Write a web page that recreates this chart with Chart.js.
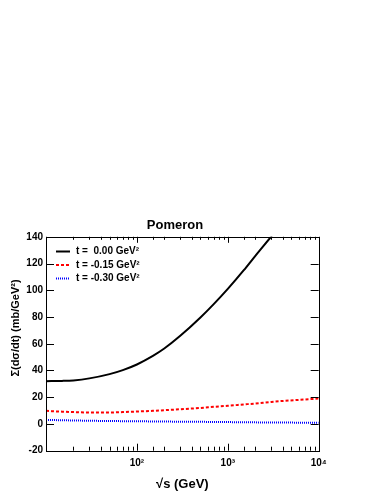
<!DOCTYPE html>
<html>
<head>
<meta charset="utf-8">
<script src="https://cdn.jsdelivr.net/npm/chart.js"></script>
<style>
  body { margin: 0; background: #fff; }
  canvas { display: block; }
</style>
</head>
<body>
<canvas id="myChart" width="382" height="494"></canvas>
<script>
// sqrt(s) in GeV
const energies = [10, 15, 20, 30, 50, 70, 100, 150, 200, 300, 500, 700, 1000, 1500, 2000, 3000, 4000, 7000, 10000];

// sum of dsigma/dt (mb/GeV^2) for three t values
const t000 = [32.0, 32.2, 32.6, 34.1, 37.3, 40.3, 44.5, 50.9, 56.4, 65.9, 79.6, 89.6, 101.0, 115.0, 125.6, 140.2, 150.9, null, null];
const t015 = [9.8, 9.2, 8.9, 8.6, 8.6, 8.9, 9.3, 9.8, 10.3, 11.0, 12.0, 12.8, 13.6, 14.6, 15.3, 16.5, 17.2, 18.3, 19.0];
const t030 = [3.0, 2.8, 2.6, 2.4, 2.2, 2.1, 2.0, 1.9, 1.8, 1.7, 1.6, 1.5, 1.4, 1.3, 1.2, 1.1, 1.05, 0.95, 0.9];

const seriesLabels = ['t =  0.00 GeV\u00b2', 't = -0.15 GeV\u00b2', 't = -0.30 GeV\u00b2'];
const decadeLabels = { 100: '10\u00b2', 1000: '10\u00b3', 10000: '10\u2074' };

const chartTitle = 'Pomeron';
const xTitle = '\u221as (GeV)';
const yTitle = '\u03a3(d\u03c3/dt) (mb/GeV\u00b2)';

const FONT = "'Liberation Sans', Arial, sans-serif";

function pts(vals) {
    return energies.map((e, i) => ({ x: e, y: vals[i] }));
}

const isDecade = v => Math.abs(Math.log10(v) - Math.round(Math.log10(v))) < 1e-6;

// frame, inward ticks on all four sides, legend, title, y title
const decor = {
    id: 'decor',
    afterDraw(chart) {
        const { ctx, chartArea: a, scales: { x, y } } = chart;
        ctx.save();
        ctx.strokeStyle = '#000';
        ctx.lineWidth = 1;
        ctx.strokeRect(Math.round(a.left) + 0.5, Math.round(a.top) + 0.5,
            Math.round(a.width), Math.round(a.height));

        ctx.beginPath();
        x.ticks.forEach(t => {
            const px = Math.round(x.getPixelForValue(t.value)) + 0.5;
            const big = isDecade(t.value);
            ctx.moveTo(px, a.bottom); ctx.lineTo(px, a.bottom - (big ? 7 : 4));
            ctx.moveTo(px, a.top); ctx.lineTo(px, a.top + (big ? 6 : 3));
        });
        y.ticks.forEach(t => {
            const py = Math.round(y.getPixelForValue(t.value)) + 0.5;
            ctx.moveTo(a.left, py); ctx.lineTo(a.left + 8, py);
            ctx.moveTo(a.right, py); ctx.lineTo(a.right - 8, py);
        });
        ctx.stroke();

        // legend
        ctx.font = 'bold 10px ' + FONT;
        ctx.textBaseline = 'middle';
        ctx.textAlign = 'left';
        const rows = [251.5, 265, 278.5];
        chart.data.datasets.forEach((ds, i) => {
            ctx.beginPath();
            ctx.strokeStyle = ds.borderColor;
            ctx.lineWidth = ds.borderWidth;
            ctx.setLineDash(ds.borderDash || []);
            ctx.moveTo(a.left + 10, rows[i]);
            ctx.lineTo(a.left + 24, rows[i]);
            ctx.stroke();
            ctx.setLineDash([]);
            ctx.fillStyle = '#000';
            ctx.fillText(ds.label, a.left + 30, rows[i]);
        });

        // title
        ctx.font = 'bold 13px ' + FONT;
        ctx.textAlign = 'center';
        ctx.fillText(chartTitle, 175, 225);

        // y axis title, sits a bit above the axis centre like the original
        ctx.translate(16, 328);
        ctx.rotate(-Math.PI / 2);
        ctx.font = 'bold 11px ' + FONT;
        ctx.fillText(yTitle, 0, 0);
        ctx.restore();
    }
};

const data = {
    datasets: [{
        label: seriesLabels[0],
        data: pts(t000),
        borderColor: '#000000',
        borderWidth: 2,
        borderDash: [],
    }, {
        label: seriesLabels[1],
        data: pts(t015),
        borderColor: '#ff0000',
        borderWidth: 2,
        borderDash: [3, 2],
    }, {
        label: seriesLabels[2],
        data: pts(t030),
        borderColor: '#0000ff',
        borderWidth: 2,
        borderDash: [1, 1],
    }]
};

const config = {
    type: 'line',
    data: data,
    plugins: [decor],
    options: {
        responsive: false,
        animation: false,
        devicePixelRatio: 1,
        layout: { padding: { top: 236.8, right: 63.3, bottom: 0, left: 0 } },
        elements: {
            point: { radius: 0 },
            line: { cubicInterpolationMode: 'monotone' }
        },
        plugins: {
            legend: { display: false },
            tooltip: { enabled: false },
            title: { display: false }
        },
        scales: {
            x: {
                type: 'logarithmic',
                min: 10,
                max: 10000,
                grid: { display: false, drawTicks: false },
                border: { display: false },
                ticks: {
                    autoSkip: false,
                    maxRotation: 0,
                    padding: 7,
                    color: '#000',
                    font: { family: FONT, size: 10, weight: 'bold' },
                    callback: v => decadeLabels[v] || ''
                },
                title: {
                    display: true,
                    text: xTitle,
                    color: '#000',
                    font: { family: FONT, size: 13, weight: 'bold' },
                    padding: { top: 0, bottom: 2.2 }
                },
                afterFit: s => { s.height = 43.3; }
            },
            y: {
                min: -20,
                max: 140,
                grid: { display: false, drawTicks: false },
                border: { display: false },
                ticks: {
                    stepSize: 20,
                    padding: 3,
                    color: '#000',
                    font: { family: FONT, size: 10, weight: 'bold' }
                },
                title: { display: false },
                afterFit: s => { s.width = 46; }
            }
        }
    }
};

const myChart = new Chart(document.getElementById('myChart'), config);
</script>
</body>
</html>
